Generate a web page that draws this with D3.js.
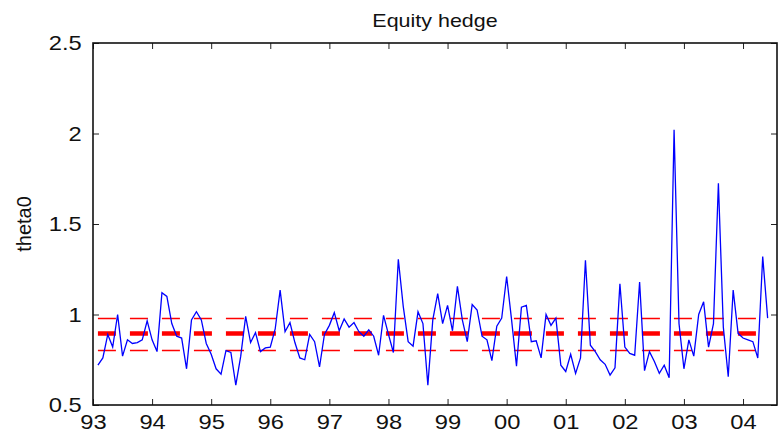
<!DOCTYPE html>
<html>
<head>
<meta charset="utf-8">
<script src="https://cdn.jsdelivr.net/npm/d3@7"></script>
<style>
body { margin: 0; background: #fff; }
text { font-family: Arial, "Liberation Sans", sans-serif; fill: #111; }
</style>
</head>
<body>
<svg id="chart" width="780" height="433"></svg>
<script>
// monthly theta0 estimates, Jan 1993 .. May 2004
var startYear = 1993;
var theta0 = [
    0.72, 0.76, 0.89, 0.82, 1.00, 0.77, 0.86, 0.84, 0.845, 0.86, 0.965, 0.86,
    0.795, 1.12, 1.10, 0.95, 0.88, 0.87, 0.70, 0.97, 1.015, 0.97, 0.84, 0.78,
    0.70, 0.67, 0.80, 0.79, 0.61, 0.77, 0.99, 0.845, 0.90, 0.795, 0.815, 0.82,
    0.92, 1.135, 0.905, 0.955, 0.845, 0.76, 0.75, 0.89, 0.85, 0.71, 0.89, 0.94,
    1.01, 0.91, 0.975, 0.93, 0.955, 0.905, 0.88, 0.915, 0.88, 0.775, 0.995, 0.89,
    0.79, 1.305, 1.045, 0.85, 0.825, 1.015, 0.95, 0.61, 0.97, 1.115, 0.95, 1.05,
    0.91, 1.155, 0.97, 0.85, 1.055, 1.025, 0.88, 0.86, 0.745, 0.935, 0.98, 1.21,
    0.97, 0.715, 1.04, 1.05, 0.85, 0.855, 0.76, 1.00, 0.94, 0.98, 0.72, 0.685,
    0.78, 0.675, 0.76, 1.30, 0.83, 0.795, 0.75, 0.725, 0.665, 0.705, 1.17, 0.82,
    0.785, 0.775, 1.18, 0.69, 0.795, 0.74, 0.675, 0.72, 0.65, 2.02, 0.95, 0.70,
    0.86, 0.77, 1.00, 1.07, 0.82, 0.95, 1.725, 0.93, 0.656, 1.135, 0.896, 0.87,
    0.86, 0.85, 0.76, 1.32, 0.98
];
// mean and band levels (red dashed lines)
var meanLevel = 0.895;
var bandLevels = [0.983, 0.805];

var xTicks = [1993, 1994, 1995, 1996, 1997, 1998, 1999, 2000, 2001, 2002, 2003, 2004];
var yTicks = [0.5, 1, 1.5, 2, 2.5];

var margin = { left: 93, top: 43, right: 3, bottom: 28 };
var width = 780 - margin.left - margin.right;
var height = 433 - margin.top - margin.bottom;

var dates = theta0.map(function (d, i) { return startYear + (i + 1) / 12; });

var svg = d3.select("#chart");
var g = svg.append("g").attr("transform", "translate(" + margin.left + "," + margin.top + ")");

var x = d3.scaleLinear().domain([1993, 2004.575]).range([0, width]);
var y = d3.scaleLinear().domain([0.5, 2.5]).range([height, 0]);

var stretch = "scale(1.13,1)";

// axes with inward ticks on all four sides
g.append("g").attr("transform", "translate(0," + height + ")")
    .call(d3.axisBottom(x).tickValues(xTicks).tickSizeInner(-6).tickSizeOuter(0).tickPadding(9)
        .tickFormat(function (d) { return d3.format("02d")(d % 100); }));
g.append("g")
    .call(d3.axisLeft(y).tickValues(yTicks).tickSizeInner(-6).tickSizeOuter(0).tickPadding(10)
        .tickFormat(d3.format("")));
g.append("g").call(d3.axisTop(x).tickValues(xTicks).tickSizeInner(-6).tickSizeOuter(0).tickFormat(""));
g.append("g").attr("transform", "translate(" + width + ",0)")
    .call(d3.axisRight(y).tickValues(yTicks).tickSizeInner(-6).tickSizeOuter(0).tickFormat(""));

g.selectAll(".tick line").attr("stroke", "#222").attr("stroke-width", 1);
g.selectAll(".domain").remove();
g.selectAll(".tick text").attr("font-size", 21).attr("fill", "#111").attr("transform", stretch);

// box
g.append("rect").attr("width", width).attr("height", height)
    .attr("fill", "none").attr("stroke", "#111").attr("stroke-width", 1.6);

// red dashed lines: mean (thick) and bands (thin)
var x0 = x(dates[0]), x1 = x(dates[dates.length - 1]);
g.append("line").attr("x1", x0).attr("x2", x1)
    .attr("y1", y(meanLevel)).attr("y2", y(meanLevel))
    .attr("stroke", "#ff0000").attr("stroke-width", 4.5).attr("stroke-dasharray", "18,14");
bandLevels.forEach(function (b) {
    var yb = Math.round(y(b)) + 0.5;
    g.append("line").attr("x1", x0).attr("x2", x1)
        .attr("y1", yb).attr("y2", yb)
        .attr("stroke", "#ff0000").attr("stroke-width", 1.5).attr("stroke-dasharray", "18,14");
});

// theta0 series
var line = d3.line()
    .x(function (d, i) { return x(dates[i]); })
    .y(function (d) { return y(d); });
g.append("path").datum(theta0)
    .attr("fill", "none").attr("stroke", "#0000ff").attr("stroke-width", 1.3)
    .attr("d", line);

// title and y label
svg.append("text").attr("x", 0).attr("y", 27)
    .attr("transform", "translate(" + (margin.left + width / 2) + ",0) " + stretch)
    .attr("text-anchor", "middle").attr("font-size", 19).text("Equity hedge");
svg.append("text")
    .attr("transform", "translate(31," + (margin.top + height / 2) + ") rotate(-90)")
    .attr("text-anchor", "middle").attr("font-size", 20).text("theta0");
</script>
</body>
</html>
